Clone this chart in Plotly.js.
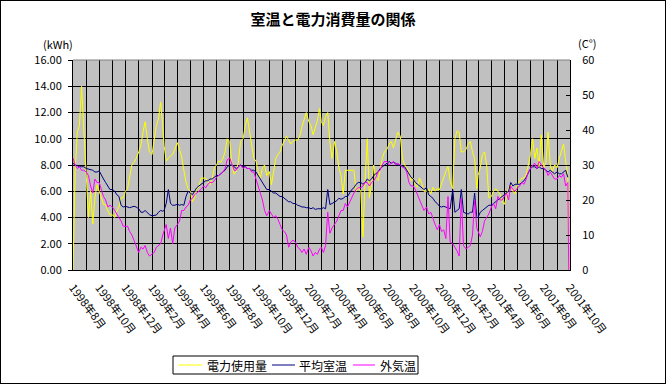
<!DOCTYPE html>
<html><head><meta charset="utf-8">
<script src="https://cdn.plot.ly/plotly-3.0.1.min.js"></script>
<style>
html,body{margin:0;padding:0;background:#fff;}
#wrap{width:664px;height:382px;border:1px solid #000;}
#chart{width:664px;height:382px;}
</style></head><body><div id="wrap"><div id="chart"></div></div>
<script>
// ---- data ----
const months = [
 '1998-08','1998-09','1998-10','1998-11','1998-12',
 '1999-01','1999-02','1999-03','1999-04','1999-05','1999-06','1999-07','1999-08','1999-09','1999-10','1999-11','1999-12',
 '2000-01','2000-02','2000-03','2000-04','2000-05','2000-06','2000-07','2000-08','2000-09','2000-10','2000-11','2000-12',
 '2001-01','2001-02','2001-03','2001-04','2001-05','2001-06','2001-07','2001-08','2001-09'
];
const sampleDays = [1,6,11,16,21,26];
const lastDate = '2001-09-28';

// 電力使用量 (kWh)
const power = [
 0,7.5,10.5,11.0,14.0,10.5,
 6.5,4.0,6.0,3.5,5.5,6.5,
 6.0,5.5,5.0,5.0,4.5,4.2,
 4.2,4.0,4.5,4.8,5.5,5.5,
 6.0,6.2,7.0,8.0,8.2,8.5,
 9.0,9.5,10.5,11.3,10.0,9.0,
 8.8,10.0,11.0,11.5,12.8,11.0,
 9.5,8.3,8.5,8.7,8.8,9.2,
 9.7,9.2,8.6,7.6,6.7,6.2,
 6.0,5.2,5.5,6.2,6.3,7.0,
 7.0,7.0,6.7,6.5,7.0,7.8,
 8.0,8.3,8.2,8.5,9.0,10.0,
 9.8,8.0,7.3,7.5,8.2,9.8,
 10.0,11.0,11.6,10.5,9.3,8.5,
 8.3,7.5,7.0,7.8,8.0,7.2,
 7.5,6.5,7.5,8.5,8.8,9.0,
 9.5,9.8,10.2,9.9,9.6,9.8,
 9.9,9.9,10.2,10.9,11.4,12.0,
 11.3,11.0,10.3,10.8,11.4,12.3,
 11.3,11.0,11.7,12.0,9.8,8.5,
 9.8,9.0,7.8,7.2,5.8,7.6,
 7.6,7.6,7.6,7.6,6.0,6.3,
 6.0,2.5,6.8,10.0,5.5,6.5,
 8.0,7.0,6.8,7.8,8.5,9.0,
 9.2,9.6,9.8,9.3,10.0,10.5,
 10.2,8.5,8.0,7.8,7.5,6.8,
 7.0,6.5,6.3,7.0,6.6,6.0,
 6.0,6.2,5.8,6.3,6.0,6.2,
 6.1,6.6,7.0,7.5,7.9,6.8,
 6.2,10.0,10.6,10.5,9.0,9.0,
 9.2,9.6,9.8,9.0,8.5,6.2,
 7.2,7.8,8.8,9.0,8.0,5.5,
 5.6,6.0,6.2,6.0,5.8,5.2,
 5.0,5.5,6.3,6.5,6.0,5.8,
 6.5,6.8,7.0,7.0,7.3,8.0,
 8.8,10.0,8.5,9.3,7.8,10.3,
 7.8,8.2,10.5,8.0,7.5,8.0,
 7.8,8.5,9.0,9.6,8.3,7.2,
 0
];
// 平均室温 (°C)
const roomTemp = [
 30.5,30,29.8,29.5,29.5,29.5,
 29,28.8,28.5,28.5,28,28,
 28.3,27,26,25,24,23,
 23,22.5,21.5,21,18.5,18,
 18.2,18,17.8,18,18.2,18,
 17.5,16.5,16.5,17,16.5,15.8,
 15.5,15.5,15.7,16.5,17,16.8,
 17,19,23,19,18.5,18.5,
 18.8,18.5,18.7,18.5,21,22.5,
 22,21.5,22.5,23.5,24,24.5,
 25,25.5,25.5,26,26,26.5,
 27,27,27.5,28,28.5,29.5,
 30,30,29.5,29,29.5,30,
 29.5,29.5,29,29,28.5,28.5,
 28,27,26,25,24,23,
 23,22.5,22,22,21.5,21,
 21,20.5,20,19.5,19.5,19,
 19,18.5,18.3,18,18,17.8,
 17.8,17.5,17.8,17.3,17.5,17.5,
 17.5,17.8,17.5,23,18.7,19,
 19.5,19.8,20.5,20.2,20.5,21,
 21,22,23,23.5,24.5,25,
 25,24.5,25,26,25.5,26,
 27,27.5,28,29,29.5,30,
 30.5,31,30.5,30.8,30.5,30,
 30,29.5,29.5,28.5,27.5,26.5,
 26,25,24.5,24,23.5,23,
 23.5,21.5,21,20.5,19.5,19,
 18.2,18,18.2,18,17.8,17.5,
 23,16.5,17,17.5,23,16.5,
 16.2,16,16.5,16.5,22,15,
 15,16.5,17,17.5,18,18.5,
 18.5,19,19.5,20,20.5,21,
 21.5,22,22.5,25,24,24.5,
 24.5,24.5,25,25.5,26.5,28,
 29,29.5,29.5,29,29.5,29,
 29,28.5,28,28.5,28,27.5,
 28,27.5,27.5,28,28.5,26.5,
 null
];
// 外気温 (°C)
const outdoorTemp = [
 32,30,29,29.5,28.5,28.5,
 28,27,24,22,26,25,
 25,23,21,20,18,18.5,
 18,17,16,15,14,12.5,
 12.5,12.5,11,10,8.5,7,
 5,6.5,6,7,5,4,
 4.5,5,6.5,7,7.5,10,
 11,13,9,12,7.5,12,
 13,14,17,17,18,18.5,
 20,20.5,21.5,22,22.5,23,
 24,23.5,24.5,25,25,25.5,
 26.5,27,27.5,28,29,31.5,
 32,30,28.5,28.5,29.5,30,
 29,29.5,29,29,28,28,
 26,24,22,20,17,15.5,
 17,16,15,15.5,14.5,13,
 11.5,11,10,6.5,8,8.5,
 8,6.5,6,5,6,4.5,
 6.5,5.5,4,5,4.5,6,
 6.5,5,7,16.5,10.5,12,
 13,14,15.5,17,17,19,
 18,19.5,21,22,23,23.5,
 23.5,24,25,25,24,25,
 25.5,26.5,28,28.5,30,31,
 31,30,30.5,31,30,30.5,
 30,29.5,29,28,25,24,
 24,23,21.5,20.5,19,17,
 18,16,16.5,14.5,13,11.5,
 13,11,11.5,9,21,8,
 7.5,6.5,5.5,4,20.5,7,
 6,6.5,7,10,20,12,
 11,9.5,11,14,15,16,
 18,19,17.5,21,20,20,
 21,22,20,24,23,22.5,
 23.5,24,25,24.5,26,28,
 29,30,30.5,29,31,30,
 29,28.5,27,28,27,26,
 26,27,26.5,27.5,24,25,
 0
];
const tickDates = ['1998-08-01','1998-10-01','1998-12-01','1999-02-01','1999-04-01','1999-06-01','1999-08-01','1999-10-01','1999-12-01',
 '2000-02-01','2000-04-01','2000-06-01','2000-08-01','2000-10-01','2000-12-01','2001-02-01','2001-04-01','2001-06-01','2001-08-01','2001-10-01'];
const tickLabels = ['1998年8月','1998年10月','1998年12月','1999年2月','1999年4月','1999年6月','1999年8月','1999年10月','1999年12月',
 '2000年2月','2000年4月','2000年6月','2000年8月','2000年10月','2000年12月','2001年2月','2001年4月','2001年6月','2001年8月','2001年10月'];
const seriesNames = ['電力使用量','平均室温','外気温'];
const seriesColors = ['#FFFF00','#000080','#FF00FF'];

// ---- dates ----
const dates = [];
months.forEach(m => sampleDays.forEach(d => dates.push(m + '-' + String(d).padStart(2,'0'))));
dates.push(lastDate);

const FONT = '"Noto Sans CJK JP", "Noto Sans", sans-serif';
const traces = [
 {x:dates, y:power, name:seriesNames[0], type:'scatter', mode:'lines', line:{color:seriesColors[0], width:1}, yaxis:'y', showlegend:false},
 {x:dates, y:roomTemp, name:seriesNames[1], type:'scatter', mode:'lines', line:{color:seriesColors[1], width:1}, yaxis:'y2', showlegend:false},
 {x:dates, y:outdoorTemp, name:seriesNames[2], type:'scatter', mode:'lines', line:{color:seriesColors[2], width:1}, yaxis:'y2', showlegend:false}
];

// page-pixel -> paper helpers (plot area: x 73..570, y 60..270 in page pixels; container has 1px border)
const L = 72, T = 59, W = 497, H = 210;
const px = x => ((x - 1) - L) / W;
const py = y => (T + H - (y - 1)) / H;

// legend drawn as box + sample lines + labels
const legLines = [[178,202],[272,295],[353,375]];
const legTextX = [205,297,378];
const legY = 365;
const shapes = [
 {type:'line', xref:'paper', yref:'paper', x0:0, x1:1, y0:1, y1:1, line:{color:'#808080', width:1}},
 {type:'rect', xref:'paper', yref:'paper', x0:px(173), x1:px(418), y0:py(356), y1:py(374), line:{color:'#000', width:1}, fillcolor:'#fff'}
];
legLines.forEach((l,i) => shapes.push({type:'line', xref:'paper', yref:'paper', x0:px(l[0]), x1:px(l[1]), y0:py(legY), y1:py(legY), line:{color:seriesColors[i], width:1}}));
const annotations = [
 {text:'(kWh)', xref:'paper', yref:'paper', x:px(58), y:py(44), xanchor:'center', yanchor:'middle', showarrow:false, font:{family:FONT, size:11, color:'#000'}},
 {text:'(C°)', xref:'paper', yref:'paper', x:px(587), y:py(43), xanchor:'center', yanchor:'middle', showarrow:false, font:{family:FONT, size:11, color:'#000'}}
];
seriesNames.forEach((n,i) => annotations.push({text:n, xref:'paper', yref:'paper', x:px(legTextX[i]), y:py(legY), xanchor:'left', yanchor:'middle', showarrow:false, font:{family:FONT, size:12, color:'#000'}}));

const layout = {
 width:664, height:382,
 margin:{l:L, r:664-L-W, t:T, b:382-T-H, autoexpand:false},
 paper_bgcolor:'#ffffff', plot_bgcolor:'#c0c0c0',
 font:{family:FONT, size:11, color:'#000'},
 title:{text:'<b>室温と電力消費量の関係</b>', font:{family:FONT, size:15, color:'#000'}, x:0.5, xref:'container', xanchor:'center', y:1-19/382, yref:'container', yanchor:'middle'},
 showlegend:false,
 xaxis:{type:'date', range:['1998-08-01','2001-10-01'], tickmode:'array', tickvals:tickDates, ticktext:tickLabels, tickangle:53,
   showgrid:true, gridcolor:'#000', gridwidth:1,
   minor:{dtick:'M1', tick0:'1998-08-01', showgrid:true, gridcolor:'#000', gridwidth:1},
   showline:true, linecolor:'#000', linewidth:1, ticks:'', ticklabelstandoff:6, zeroline:false, tickfont:{family:FONT, size:11, color:'#000'}, fixedrange:true},
 yaxis:{range:[0,16], dtick:2, tick0:0, tickformat:'.2f', showgrid:true, gridcolor:'#000', gridwidth:1, showline:true, linecolor:'#000', linewidth:1,
   ticks:'outside', ticklen:4, tickcolor:'#000', ticklabelstandoff:4, zeroline:false, tickfont:{family:FONT, size:11, color:'#000'}, fixedrange:true},
 yaxis2:{range:[0,60], dtick:10, tick0:0, overlaying:'y', side:'right', showgrid:false, showline:true, linecolor:'#000', linewidth:1,
   ticks:'inside', ticklen:4, tickcolor:'#000', zeroline:false, ticklabelstandoff:9, tickfont:{family:FONT, size:11, color:'#000'}, fixedrange:true},
 annotations:annotations,
 shapes:shapes
};
Plotly.newPlot('chart', traces, layout, {staticPlot:true, displayModeBar:false});
</script></body></html>
